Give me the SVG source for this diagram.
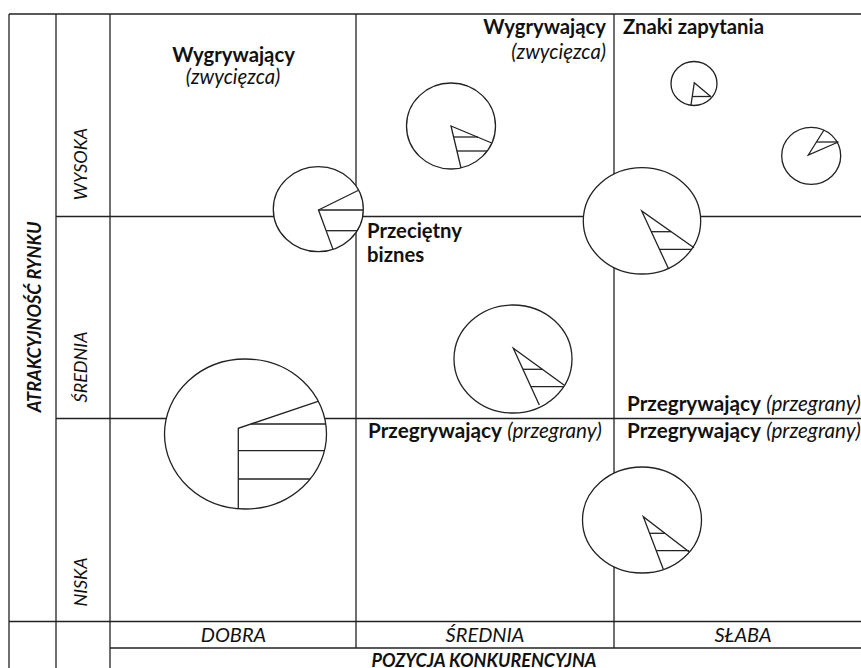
<svg xmlns="http://www.w3.org/2000/svg" width="861" height="668" viewBox="0 0 861 668">
<style>
.ln{stroke:#222;stroke-width:1.3;fill:none}
.bub{stroke:#222;stroke-width:1.3;fill:#fff}
.wd{stroke:#222;stroke-width:1.3;fill:none;stroke-linejoin:miter}
.t{font-family:Lato,"Liberation Sans",sans-serif;font-size:18px;fill:#111}
.l{font-size:20.3px}
.p{font-size:20.7px}
.x{font-size:20px}
.b{font-weight:bold}
.i{font-style:italic}
</style>
<rect width="861" height="668" fill="#fff"/>
<g id="grid" class="ln">
<line x1="9" y1="14" x2="861" y2="14"/>
<line x1="9" y1="14" x2="9" y2="668"/>
<line x1="56" y1="14" x2="56" y2="668"/>
<line x1="110" y1="14" x2="110" y2="668"/>
<line x1="356" y1="14" x2="356" y2="648"/>
<line x1="614" y1="14" x2="614" y2="648"/>
<line x1="56" y1="216.5" x2="861" y2="216.5"/>
<line x1="56" y1="418.5" x2="861" y2="418.5"/>
<line x1="9" y1="621.5" x2="861" y2="621.5"/>
<line x1="110" y1="648" x2="861" y2="648"/>
</g>
<g id="bubble-a">
<ellipse class="bub" cx="318.3" cy="209.2" rx="45" ry="42.5"/>
<polyline class="wd" points="358,190.5 318.5,210 333,249.4"/>
<line class="wd" x1="318.5" y1="210" x2="363" y2="210"/>
<line class="wd" x1="326.4" y1="230.7" x2="357" y2="230.7"/>
</g>
<g id="bubble-b">
<ellipse class="bub" cx="451" cy="126" rx="44.5" ry="43"/>
<polyline class="wd" points="491.7,143 451,126 461,168"/>
<line class="wd" x1="453.6" y1="137" x2="478" y2="137"/>
<line class="wd" x1="457" y1="151" x2="487" y2="151"/>
</g>
<g id="bubble-c">
<ellipse class="bub" cx="694" cy="83.5" rx="23" ry="22"/>
<polyline class="wd" points="711,96.7 694.3,82.7 691,105"/>
<line class="wd" x1="692" y1="96.5" x2="711" y2="96.5"/>
</g>
<g id="bubble-d">
<ellipse class="bub" cx="811.2" cy="155.8" rx="29.5" ry="28.5"/>
<polyline class="wd" points="824,130 808.3,155 838.3,142"/>
<line class="wd" x1="816.5" y1="142" x2="838.3" y2="142"/>
</g>
<g id="bubble-e">
<ellipse class="bub" cx="642" cy="220.8" rx="58.7" ry="53.2"/>
<polyline class="wd" points="694,247.7 641.7,211 668.3,268.3"/>
<line class="wd" x1="651.3" y1="231.7" x2="671.2" y2="231.7"/>
<line class="wd" x1="659.5" y1="249.3" x2="691.6" y2="249.3"/>
</g>
<g id="bubble-f">
<ellipse class="bub" cx="513" cy="359" rx="59" ry="54"/>
<polyline class="wd" points="564,385 513.3,348.3 539.3,405"/>
<line class="wd" x1="522.9" y1="369.3" x2="542.3" y2="369.3"/>
<line class="wd" x1="530.9" y1="386.7" x2="563.6" y2="386.7"/>
</g>
<g id="bubble-g">
<ellipse class="bub" cx="245.5" cy="434" rx="81" ry="75"/>
<polyline class="wd" points="318,401.3 238.3,428.3 238.3,508.7"/>
<line class="wd" x1="251" y1="424" x2="325.8" y2="424"/>
<line class="wd" x1="238.3" y1="450.7" x2="324.5" y2="450.7"/>
<line class="wd" x1="238.3" y1="479" x2="310.3" y2="479"/>
</g>
<g id="bubble-h">
<ellipse class="bub" cx="642" cy="520" rx="59.5" ry="53"/>
<polyline class="wd" points="689,551.7 643.3,516.7 663.3,569.3"/>
<line class="wd" x1="649.6" y1="533.3" x2="665" y2="533.3"/>
<line class="wd" x1="656.2" y1="550.7" x2="689" y2="550.7"/>
</g>
<g id="labels">
<text class="t l b" x="233.5" y="62" text-anchor="middle">Wygrywający</text>
<text class="t l i" x="233" y="84" text-anchor="middle">(zwycięzca)</text>
<text class="t l b" x="606" y="34" text-anchor="end">Wygrywający</text>
<text class="t l i" x="606" y="59" text-anchor="end">(zwycięzca)</text>
<text class="t l b" x="623" y="34">Znaki zapytania</text>
<text class="t l b" x="367" y="238">Przeciętny</text>
<text class="t l b" x="367" y="262">biznes</text>
<text class="t p" x="368" y="438"><tspan class="b">Przegrywający</tspan> <tspan class="i">(przegrany)</tspan></text>
<text class="t p" x="627" y="411"><tspan class="b">Przegrywający</tspan> <tspan class="i">(przegrany)</tspan></text>
<text class="t p" x="627" y="438"><tspan class="b">Przegrywający</tspan> <tspan class="i">(przegrany)</tspan></text>
</g>
<g id="axis-labels">
<text class="t b i" transform="translate(41,317) rotate(-90)" text-anchor="middle">ATRAKCYJNOŚĆ RYNKU</text>
<text class="t i" transform="translate(87,164) rotate(-90)" text-anchor="middle">WYSOKA</text>
<text class="t i" transform="translate(87,367) rotate(-90)" text-anchor="middle">ŚREDNIA</text>
<text class="t i" transform="translate(87,582) rotate(-90)" text-anchor="middle">NISKA</text>
<text class="t x i" x="233.5" y="641.5" text-anchor="middle">DOBRA</text>
<text class="t x i" x="485" y="641.5" text-anchor="middle">ŚREDNIA</text>
<text class="t x i" x="743" y="641.5" text-anchor="middle">SŁABA</text>
<text class="t b i" x="484" y="666.5" text-anchor="middle">POZYCJA KONKURENCYJNA</text>
</g>
</svg>
